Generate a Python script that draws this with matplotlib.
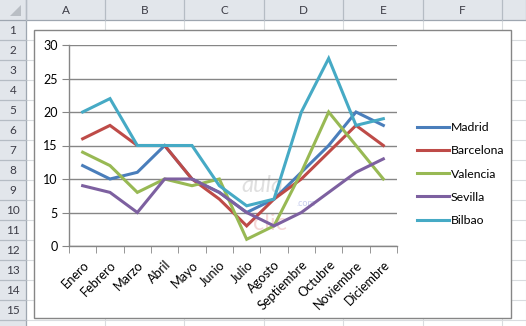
import matplotlib
matplotlib.use("Agg")
import matplotlib.pyplot as plt
from matplotlib.patches import Rectangle, Polygon

plt.rcParams['font.family'] = ['Lato', 'DejaVu Sans']

meses = ['Enero', 'Febrero', 'Marzo', 'Abril', 'Mayo', 'Junio', 'Julio',
         'Agosto', 'Septiembre', 'Octubre', 'Noviembre', 'Diciembre']
madrid = [12, 10, 11, 15, 10, 8, 5, 7, 11, 15, 20, 18]
barcelona = [16, 18, 15, 15, 10, 7, 3, 7, 10, 14, 18, 15]
valencia = [14, 12, 8, 10, 9, 10, 1, 3, 11, 20, 15, 10]
sevilla = [9, 8, 5, 10, 10, 8, 5, 3, 5, 8, 11, 13]
bilbao = [20, 22, 15, 15, 15, 9, 6, 7, 20, 28, 18, 19]

series = [('Madrid', madrid, '#4a7ebb'),
          ('Barcelona', barcelona, '#be4b48'),
          ('Valencia', valencia, '#98b954'),
          ('Sevilla', sevilla, '#7d60a0'),
          ('Bilbao', bilbao, '#46aac5')]

columnas = ['A', 'B', 'C', 'D', 'E', 'F']
col_edges = [26, 105, 184, 264, 343, 423, 502]

W, H = 526, 326
fig = plt.figure(figsize=(W / 100, H / 100), dpi=100)

# hoja de calculo de fondo, en pixeles
bg = fig.add_axes([0, 0, 1, 1])
bg.set_xlim(0, W)
bg.set_ylim(H, 0)
bg.axis('off')

grid_c = '#d9dcdf'
for x in col_edges + [W]:
    bg.plot([x, x], [20, H], color=grid_c, lw=0.8)
for r in range(1, 17):
    bg.plot([26, W], [20 * r + 20, 20 * r + 20], color=grid_c, lw=0.8)

# cabeceras
bg.add_patch(Rectangle((0, 0), W, 20, color='#e2e6eb', lw=0))
bg.add_patch(Rectangle((0, 0), 26, H, color='#e2e6eb', lw=0))
bg.plot([0, W], [19.5, 19.5], color='#9ea6b0', lw=0.9)
bg.plot([25.5, 25.5], [0, H], color='#9ea6b0', lw=0.9)
for x in col_edges + [W]:
    bg.plot([x, x], [0, 19.5], color='#b5bcc4', lw=0.9)
for r in range(1, 17):
    bg.plot([0, 25.5], [20 * r + 20, 20 * r + 20], color='#b5bcc4', lw=0.9)
bg.add_patch(Polygon([[21, 5], [21, 16], [10, 16]], color='#b9bec4', lw=0))
for i, c in enumerate(columnas):
    bg.text((col_edges[i] + col_edges[i + 1]) / 2, 10.5, c, ha='center',
            va='center', fontsize=8.5, color='#3c3c46')
for r in range(1, 16):
    bg.text(13, 20 * r + 10.5, str(r), ha='center', va='center',
            fontsize=8.5, color='#3c3c46')

# marco del grafico
bg.add_patch(Rectangle((34, 30), 477, 288, facecolor='white',
                       edgecolor='#868686', lw=1.0, zorder=3))

# logo de fondo
bg.text(262, 186, 'aula', fontsize=17, color='#d8d8d8', style='italic',
        ha='center', va='center', zorder=4, alpha=0.8)
bg.text(306, 204, '.com', fontsize=6.5, color='#c9cfee', ha='center',
        va='center', zorder=4)
bg.text(270, 224, 'clic', fontsize=17, color='#f4d3d3', ha='center',
        va='center', zorder=4, alpha=0.9)

# area de trazado
ax = fig.add_axes([69 / W, 1 - 246 / H, (397 - 69) / W, (246 - 45) / H])
ax.patch.set_alpha(0)
x = list(range(len(meses)))
for nombre, vals, col in series:
    ax.plot(x, vals, color=col, lw=2.2, label=nombre, solid_joinstyle='miter')

ax.set_xlim(-0.5, len(meses) - 0.5)
ax.set_ylim(0, 30)
ax.set_yticks(range(0, 31, 5))
ax.yaxis.grid(True, color='#868686', lw=1.0)
ax.set_axisbelow(True)
for s in ['top', 'right']:
    ax.spines[s].set_visible(False)
for s in ['left', 'bottom']:
    ax.spines[s].set_color('#868686')
    ax.spines[s].set_linewidth(1.0)
ax.tick_params(axis='y', length=5, color='#868686', labelsize=9,
               labelcolor='black', pad=3)
ax.set_xticks(x)
ax.set_xticklabels(meses, rotation=45, ha='right', rotation_mode='anchor',
                   fontsize=9.2)
ax.set_xticks([i - 0.5 for i in range(len(meses) + 1)], minor=True)
ax.tick_params(axis='x', which='major', length=0, pad=9)
ax.tick_params(axis='x', which='minor', length=5, color='#868686')

ax.legend(loc='center left', bbox_to_anchor=(412 / W, 1 - 174 / H),
          bbox_transform=fig.transFigure, frameon=False, fontsize=8.8,
          handlelength=2.6, handletextpad=0.15, labelspacing=1.0,
          borderaxespad=0)

fig.savefig('out.png', dpi=100)
